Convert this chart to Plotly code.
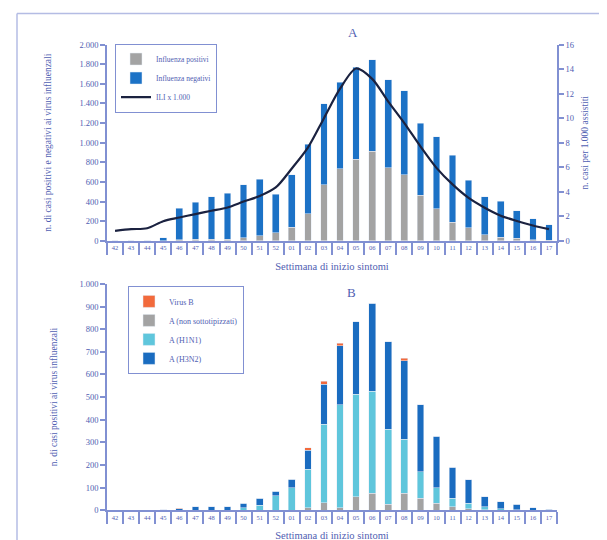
import plotly.graph_objects as go

weeks = ["42", "43", "44", "45", "46", "47", "48", "49", "50", "51", "52",
         "01", "02", "03", "04", "05", "06", "07", "08", "09", "10",
         "11", "12", "13", "14", "15", "16", "17"]

# Panel A
influenza_positivi = [0, 0, 0, 3, 9, 16, 15, 15, 30, 52, 83, 137, 277, 569, 737, 833,
                      914, 745, 671, 466, 326, 189, 134, 60, 38, 27, 12, 5]
influenza_negativi = [0, 0, 0, 27, 324, 375, 434, 471, 541, 577, 393, 536, 709, 826, 879, 936,
                      930, 894, 860, 731, 735, 685, 485, 389, 363, 279, 212, 158]
ili_per_1000 = [0.82, 0.95, 1.03, 1.6, 1.9, 2.18, 2.45, 2.72, 3.2, 3.65, 4.35, 5.9, 7.6, 10.0,
                12.4, 14.05, 13.2, 11.35, 9.6, 7.7, 5.95, 4.6, 3.5, 2.7, 2.05, 1.62, 1.25, 0.95]

# Panel B
a_non_sottotipizzati = [0, 0, 0, 0, 0, 0, 0, 0, 0, 0, 0, 0, 10, 34, 12, 59,
                        75, 27, 75, 53, 32, 15, 7, 3, 0, 0, 0, 0]
a_h1n1 = [0, 0, 0, 0, 0, 0, 0, 0, 12, 22, 63, 100, 171, 347, 454, 454,
          450, 331, 239, 118, 68, 37, 24, 12, 6, 3, 0, 0]
a_h3n2 = [0, 0, 0, 3, 6, 16, 15, 15, 18, 30, 20, 37, 84, 176, 260, 320,
          389, 387, 347, 295, 226, 137, 103, 45, 32, 24, 12, 5]
virus_b = [0, 0, 0, 0, 3, 0, 0, 0, 0, 0, 0, 0, 12, 12, 11, 0,
           0, 0, 10, 0, 0, 0, 0, 0, 0, 0, 0, 0]

W, H = 591, 540
XOFF = 8          # horizontal page offset
YS, YOFF = 0.98, 12.5   # observed vertical placement of the figure in the page photo
TXT = "#5060b2"
AX = "#8190d2"
FONT = "Liberation Serif"


def px_x(p):
    return (p - XOFF) / W


def px_y(p):
    f = (p - YOFF) / YS
    return 1 - min(max(f, 0.5), H) / H


fig = go.Figure()

fig.add_trace(go.Bar(x=weeks, y=influenza_positivi, name="Influenza positivi",
                     marker_color="#a3a3a3", xaxis="x", yaxis="y", legend="legend"))
fig.add_trace(go.Bar(x=weeks, y=influenza_negativi, name="Influenza negativi",
                     marker_color="#1c72c6", xaxis="x", yaxis="y", legend="legend"))
fig.add_trace(go.Scatter(x=weeks, y=ili_per_1000, name="ILI x 1.000", mode="lines",
                         line=dict(color="#1b2240", width=2.2, shape="spline", smoothing=0.8),
                         xaxis="x", yaxis="y2", legend="legend"))

fig.add_trace(go.Bar(x=weeks, y=a_non_sottotipizzati, name="A (non sottotipizzati)",
                     marker_color="#a3a3a3", xaxis="x2", yaxis="y3", legend="legend2", legendrank=2))
fig.add_trace(go.Bar(x=weeks, y=a_h1n1, name="A (H1N1)",
                     marker_color="#5fc6dc", xaxis="x2", yaxis="y3", legend="legend2", legendrank=3))
fig.add_trace(go.Bar(x=weeks, y=a_h3n2, name="A (H3N2)",
                     marker_color="#1a6cc0", xaxis="x2", yaxis="y3", legend="legend2", legendrank=4))
fig.add_trace(go.Bar(x=weeks, y=virus_b, name="Virus B",
                     marker_color="#f26a3c", xaxis="x2", yaxis="y3", legend="legend2", legendrank=1))

xdom = [px_x(107), px_x(557)]
xcommon = dict(type="category", categoryorder="array", categoryarray=weeks,
               range=[-0.5, len(weeks) - 0.5], showline=True, linecolor=AX, linewidth=1.5,
               ticks="outside", tickson="boundaries", ticklen=12, tickcolor=AX, tickwidth=1.5,
               tickangle=0,
               tickfont=dict(family=FONT, size=6.5, color=TXT), showgrid=False, zeroline=False,
               title=dict(text="Settimana di inizio sintomi", font=dict(family=FONT, size=10.5, color=TXT),
                          standoff=12))
ycommon = dict(showline=True, linecolor=AX, linewidth=1.5, ticks="outside", ticklen=5,
               tickcolor=AX, tickwidth=1.5, showgrid=False, zeroline=False,
               tickfont=dict(family=FONT, size=8.5, color=TXT), separatethousands=True,
               tickformat=",d")

fig.update_layout(
    width=W, height=H, margin=dict(l=0, r=0, t=0, b=0),
    paper_bgcolor="white", plot_bgcolor="white",
    barmode="stack", bargap=0.58,
    separators=",.",
    font=dict(family=FONT, color=TXT, size=9),
    xaxis=dict(domain=xdom, anchor="y", **xcommon),
    yaxis=dict(domain=[px_y(240), px_y(44)], anchor="x", range=[0, 2000], dtick=200,
               title=dict(text="n. di casi positivi e negativi ai virus influenzali",
                          font=dict(family=FONT, size=9.5, color=TXT), standoff=26),
               **ycommon),
    yaxis2=dict(overlaying="y", side="right", anchor="x", range=[0, 16], dtick=2,
                title=dict(text="n. casi per 1.000 assistiti",
                           font=dict(family=FONT, size=9.5, color=TXT), standoff=8),
                **ycommon),
    xaxis2=dict(domain=xdom, anchor="y3", **xcommon),
    yaxis3=dict(domain=[px_y(509), px_y(283)], anchor="x2", range=[0, 1000], dtick=100,
                title=dict(text="n. di casi positivi ai virus influenzali",
                           font=dict(family=FONT, size=9.5, color=TXT), standoff=20),
                **ycommon),
    legend=dict(x=px_x(115), y=px_y(43), xanchor="left", yanchor="top", traceorder="normal",
                bordercolor=AX, borderwidth=1, bgcolor="white",
                font=dict(family=FONT, size=7.5, color=TXT), tracegroupgap=0, itemwidth=30),
    legend2=dict(x=px_x(128), y=px_y(285), xanchor="left", yanchor="top", traceorder="normal",
                 bordercolor=AX, borderwidth=1, bgcolor="white",
                 font=dict(family=FONT, size=8, color=TXT), tracegroupgap=0, itemwidth=30),
    annotations=[
        dict(text="A", x=px_x(353), y=px_y(32), xref="paper", yref="paper", showarrow=False,
             xanchor="center", yanchor="middle",
             font=dict(family=FONT, size=13, color=TXT)),
        dict(text="B", x=px_x(351), y=px_y(292), xref="paper", yref="paper", showarrow=False,
             xanchor="center", yanchor="middle",
             font=dict(family=FONT, size=13, color=TXT)),
    ],
    shapes=[
        dict(type="line", xref="paper", yref="paper", x0=px_x(17), x1=1.0, y0=px_y(11), y1=px_y(11),
             line=dict(color="#b4bce4", width=1.5)),
        dict(type="line", xref="paper", yref="paper", x0=px_x(17), x1=px_x(17), y0=0, y1=px_y(11),
             line=dict(color="#b4bce4", width=1.5)),
    ],
)

fig.write_html("out.html")
